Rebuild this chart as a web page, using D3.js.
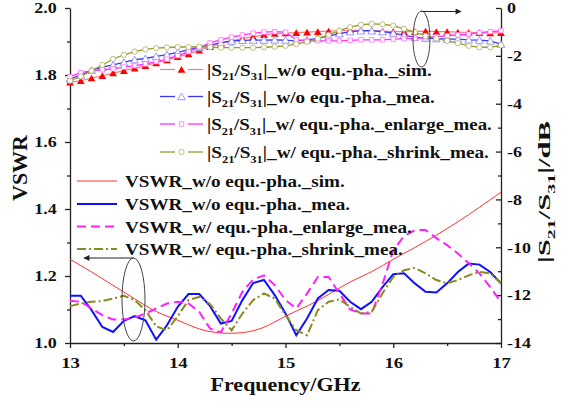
<!DOCTYPE html>
<html>
<head>
<meta charset="utf-8">
<script src="https://cdn.jsdelivr.net/npm/d3@7"></script>
<style>
  html, body { margin: 0; padding: 0; background: #fff; }
  svg text { font-family: "Liberation Serif", "Times New Roman", serif; font-weight: bold; fill: #111; }
</style>
</head>
<body>
<svg id="chart" width="565" height="404"></svg>
<script>
// ---- data ----
const freqGHz = [13.0,13.1,13.2,13.3,13.4,13.5,13.6,13.7,13.8,13.9,
                 14.0,14.1,14.2,14.3,14.4,14.5,14.6,14.7,14.8,14.9,
                 15.0,15.1,15.2,15.3,15.4,15.5,15.6,15.7,15.8,15.9,
                 16.0,16.1,16.2,16.3,16.4,16.5,16.6,16.7,16.8,16.9,17.0];

// |S21/S31| in dB (right axis)
const s21SimDb = [-3.10,-3.04,-2.93,-2.83,-2.72,-2.62,-2.52,-2.41,-2.30,-2.17,
                  -2.04,-1.92,-1.77,-1.62,-1.48,-1.37,-1.28,-1.20,-1.12,-1.07,
                  -1.05,-1.03,-1.01,-0.99,-0.97,-0.95,-0.93,-0.93,-0.95,-0.97,
                  -0.99,-0.99,-0.98,-0.97,-0.99,-0.99,-1.01,-1.02,-1.03,-1.05,-1.03];
const s21MeaDb = [-2.96,-2.80,-2.60,-2.47,-2.38,-2.27,-2.16,-2.11,-2.02,-1.95,
                  -1.85,-1.74,-1.65,-1.55,-1.45,-1.38,-1.35,-1.34,-1.34,-1.33,
                  -1.34,-1.37,-1.33,-1.27,-1.18,-1.07,-0.99,-0.95,-0.95,-0.99,
                  -1.05,-1.14,-1.22,-1.26,-1.28,-1.30,-1.30,-1.33,-1.34,-1.37,-1.51];
const s21EnlargeDb = [-2.87,-2.70,-2.62,-2.58,-2.54,-2.47,-2.41,-2.34,-2.24,-2.14,
                      -1.99,-1.83,-1.64,-1.46,-1.33,-1.22,-1.13,-1.05,-1.01,-0.99,
                      -1.01,-1.33,-1.37,-1.37,-1.37,-1.37,-1.35,-1.33,-1.33,-1.33,
                      -1.30,-1.28,-1.27,-1.24,-1.20,-1.16,-1.12,-1.09,-1.03,-0.99,-0.95];
const s21ShrinkDb = [-3.04,-2.86,-2.62,-2.38,-2.13,-1.96,-1.82,-1.73,-1.68,-1.65,
                     -1.63,-1.63,-1.62,-1.64,-1.66,-1.66,-1.66,-1.66,-1.64,-1.62,
                     -1.58,-1.51,-1.41,-1.28,-1.12,-0.95,-0.80,-0.70,-0.66,-0.68,
                     -0.74,-0.87,-1.01,-1.16,-1.27,-1.37,-1.47,-1.58,-1.64,-1.64,-1.56];

// VSWR (left axis)
const vswrSimFreq = [13.0,13.2,13.4,13.6,13.8,14.0,14.2,14.4,14.6,14.8,15.0,
                     15.2,15.4,15.6,15.8,16.0,16.2,16.4,16.6,16.8,17.0];
const vswrSim = [1.250,1.212,1.172,1.132,1.094,1.068,1.042,1.030,1.031,1.047,1.080,
                 1.110,1.145,1.182,1.213,1.250,1.285,1.322,1.362,1.405,1.450];
const vswrMea = [1.141,1.141,1.098,1.048,1.033,1.066,1.080,1.068,1.010,1.053,
                 1.108,1.146,1.146,1.110,1.058,1.066,1.128,1.179,1.188,1.143,
                 1.088,1.023,1.073,1.133,1.158,1.156,1.123,1.101,1.123,1.167,
                 1.205,1.208,1.178,1.153,1.151,1.178,1.212,1.237,1.234,1.212,1.178];
const vswrEnlarge = [1.126,1.123,1.103,1.083,1.070,1.070,1.076,1.088,1.103,1.118,
                     1.123,1.118,1.093,1.043,1.032,1.088,1.153,1.190,1.202,1.173,
                     1.128,1.103,1.148,1.197,1.197,1.148,1.100,1.088,1.088,1.175,
                     1.277,1.319,1.337,1.337,1.313,1.292,1.267,1.238,1.208,1.167,1.122];
const vswrShrink = [1.110,1.118,1.123,1.125,1.133,1.141,1.128,1.098,1.050,1.038,
                    1.080,1.128,1.138,1.116,1.073,1.038,1.088,1.128,1.148,1.133,
                    1.083,1.038,1.023,1.098,1.123,1.130,1.108,1.088,1.093,1.148,
                    1.197,1.217,1.224,1.208,1.188,1.178,1.188,1.202,1.212,1.208,1.178];

// ticks
const freqTicks = [13, 14, 15, 16, 17];
const freqMinor = [13.5, 14.5, 15.5, 16.5];
const vswrTicks = [1.0, 1.2, 1.4, 1.6, 1.8, 2.0];
const vswrMinor = [1.1, 1.3, 1.5, 1.7, 1.9];
const dbTicks = [0, -2, -4, -6, -8, -10, -12, -14];
const dbMinor = [-1, -3, -5, -7, -9, -11, -13];

// legend texts
const s21Labels = ["_w/o equ.-pha._sim.", "_w/o equ.-pha._mea.",
                   "_w/ equ.-pha._enlarge_mea.", "_w/ equ.-pha._shrink_mea."];
const vswrLabels = ["VSWR_w/o equ.-pha._sim.", "VSWR_w/o equ.-pha._mea.",
                    "VSWR_w/ equ.-pha._enlarge_mea.", "VSWR_w/ equ.-pha._shrink_mea."];

// ---- drawing ----
const svg = d3.select("#chart");
const x = d3.scaleLinear().domain([13, 17]).range([70, 501]);
const yL = d3.scaleLinear().domain([1, 2]).range([343, 8]);
const yR = d3.scaleLinear().domain([-14, 0]).range([343, 8]);

const AXIS = "#222";

function styleAxis(g, k)
{
    g.selectAll("path, line").attr("stroke", AXIS).attr("stroke-width", 1.3);
    g.selectAll("text").attr("font-size", 15).attr("fill", "#111")
        .attr("font-family", null).attr("transform", "scale(" + k + ",1)");
}

function noDomain(g) { g.select(".domain").remove(); g.selectAll("path, line").attr("stroke", AXIS).attr("stroke-width", 1.3); }

// bottom
svg.append("g").attr("transform", "translate(0,343)")
    .call(d3.axisBottom(x).tickValues(freqTicks).tickSize(5).tickSizeOuter(0).tickPadding(9).tickFormat(d3.format("d")))
    .call(g => styleAxis(g, 1.25));
svg.append("g").attr("transform", "translate(0,343)")
    .call(d3.axisBottom(x).tickValues(freqMinor).tickSize(3).tickFormat(""))
    .call(noDomain);

// left
svg.append("g").attr("transform", "translate(70,0)")
    .call(d3.axisLeft(yL).tickValues(vswrTicks).tickSize(5).tickSizeOuter(0).tickPadding(6).tickFormat(d3.format(".1f")))
    .call(g => styleAxis(g, 1.2));
svg.append("g").attr("transform", "translate(70,0)")
    .call(d3.axisLeft(yL).tickValues(vswrMinor).tickSize(3).tickFormat(""))
    .call(noDomain);

// right (ticks point inward)
svg.append("g").attr("transform", "translate(501,0)")
    .call(d3.axisRight(yR).tickValues(dbTicks).tickSize(-5).tickSizeOuter(0).tickPadding(5).tickFormat(d => d === 0 ? "0" : "-" + Math.abs(d)))
    .call(g => styleAxis(g, 1.2));
svg.append("g").attr("transform", "translate(501,0)")
    .call(d3.axisRight(yR).tickValues(dbMinor).tickSize(-3).tickFormat(""))
    .call(noDomain);

// text helper: parts = [[string, isSub], ...], stretched to width w
function richText(parent, px, py, parts, size, w, anchor, rotate)
{
    var g = parent.append("g");
    var t = g.append("text").attr("text-anchor", anchor || "start").attr("font-size", size);
    parts.forEach(function (p) {
        var s = t.append("tspan").text(p[0]);
        if (p[1])
            s.attr("font-size", size * 0.65).attr("dy", size * 0.28);
        else
            s.attr("dy", p[2] ? -size * 0.28 : 0);
    });
    var bw = t.node().getComputedTextLength();
    var k = w ? w / bw : 1;
    g.attr("transform", "translate(" + px + "," + py + ")" + (rotate ? " rotate(-90)" : "") + " scale(" + k + ",1)");
    return g;
}

const sParts = (tail) => [["|S"], ["21", true], ["/S", false, true], ["31", true], ["|" + tail, false, true]];

// axis titles
richText(svg, 285.5, 391, [["Frequency/GHz"]], 18, 150, "middle");
richText(svg, 27, 168, [["VSWR"]], 22, null, "middle", true);
richText(svg, 550, 192, sParts("/dB"), 17, 142, "middle", true);

// ---- upper curves (right axis) ----
const lineR = d3.line().x((d, i) => x(freqGHz[i])).y(d => yR(d));
const lineL = d3.line().x((d, i) => x(freqGHz[i])).y(d => yL(d));

const triangle = d3.symbol(d3.symbolTriangle).size(26);
const square = d3.symbol(d3.symbolSquare).size(20);
const circle = d3.symbol(d3.symbolCircle).size(22);

const upper = [
    { vals: s21SimDb, line: "#ff7a7a", width: 1.2, sym: triangle, fill: "#ff0000", stroke: "none", dy: 1 },
    { vals: s21MeaDb, line: "#3a3aff", width: 1.3, sym: triangle, fill: "#fff", stroke: "#8080ff", dy: 1 },
    { vals: s21EnlargeDb, line: "#ff30ff", width: 1.3, sym: square, fill: "#fff", stroke: "#ff70ff", dy: 0 },
    { vals: s21ShrinkDb, line: "#9a9a30", width: 1.3, sym: circle, fill: "#fff", stroke: "#b0b060", dy: 0 }
];

upper.forEach(function (s) {
    svg.append("path").attr("d", lineR(s.vals)).attr("fill", "none")
        .attr("stroke", s.line).attr("stroke-width", s.width);
    svg.append("g").selectAll("path").data(s.vals).enter().append("path")
        .attr("d", s.sym)
        .attr("transform", (d, i) => "translate(" + x(freqGHz[i]) + "," + (yR(d) + s.dy) + ")")
        .attr("fill", s.fill).attr("stroke", s.stroke).attr("stroke-width", 0.8);
});

// ---- VSWR curves (left axis) ----
svg.append("path")
    .attr("d", d3.line().x((d, i) => x(vswrSimFreq[i])).y(d => yL(d)).curve(d3.curveNatural)(vswrSim))
    .attr("fill", "none").attr("stroke", "#ff3030").attr("stroke-width", 1);

const lower = [
    { vals: vswrMea, color: "#1010ff", dash: null },
    { vals: vswrEnlarge, color: "#ff20ff", dash: "9,5" },
    { vals: vswrShrink, color: "#8a8a20", dash: "9,3,2,3" }
];
lower.forEach(function (s) {
    svg.append("path").attr("d", lineL(s.vals)).attr("fill", "none")
        .attr("stroke", s.color).attr("stroke-width", 2)
        .attr("stroke-dasharray", s.dash);
});

// ---- legends ----
const upRows = [69.5, 96.5, 124, 152];
const upWidths = [225, 228, 285, 282];
upper.forEach(function (s, i) {
    var yy = upRows[i];
    svg.append("line").attr("x1", 160).attr("x2", 175).attr("y1", yy).attr("y2", yy)
        .attr("stroke", s.line).attr("stroke-width", s.width);
    svg.append("line").attr("x1", 188).attr("x2", 203).attr("y1", yy).attr("y2", yy)
        .attr("stroke", s.line).attr("stroke-width", s.width);
    svg.append("path").attr("d", s.sym).attr("transform", "translate(181.5," + (yy + s.dy) + ")")
        .attr("fill", s.fill).attr("stroke", s.stroke).attr("stroke-width", 0.8);
    richText(svg, 207, yy + 6, sParts(s21Labels[i]), 16.5, upWidths[i], "start");
});

const loRows = [181, 204, 226.5, 249];
const loWidths = [220, 225, 287, 278];
const loStyle = [{ color: "#ff3030", w: 1, dash: null }].concat(lower.map(s => ({ color: s.color, w: 2, dash: s.dash })));
loStyle.forEach(function (s, i) {
    var yy = loRows[i];
    svg.append("line").attr("x1", 77).attr("x2", 117).attr("y1", yy).attr("y2", yy)
        .attr("stroke", s.color).attr("stroke-width", s.w).attr("stroke-dasharray", s.dash);
    richText(svg, 125, yy + 6, [[vswrLabels[i]]], 17, loWidths[i], "start");
});

// ---- annotations: ellipses with arrows ----
svg.append("defs").append("marker").attr("id", "arrow")
    .attr("viewBox", "0 0 10 10").attr("refX", 9).attr("refY", 5)
    .attr("markerWidth", 8).attr("markerHeight", 6).attr("orient", "auto")
    .attr("markerUnits", "userSpaceOnUse")
    .append("path").attr("d", "M0,0L10,5L0,10z").attr("fill", "#222");

svg.append("ellipse").attr("cx", 421.5).attr("cy", 39).attr("rx", 8.5).attr("ry", 28)
    .attr("fill", "none").attr("stroke", "#444").attr("stroke-width", 1);
svg.append("line").attr("x1", 421.5).attr("y1", 11.5).attr("x2", 461).attr("y2", 11.5)
    .attr("stroke", "#222").attr("stroke-width", 1).attr("marker-end", "url(#arrow)");

svg.append("ellipse").attr("cx", 133.5).attr("cy", 299.5).attr("rx", 11.5).attr("ry", 41.5)
    .attr("fill", "none").attr("stroke", "#444").attr("stroke-width", 1);
svg.append("line").attr("x1", 133.5).attr("y1", 258).attr("x2", 84).attr("y2", 258)
    .attr("stroke", "#222").attr("stroke-width", 1).attr("marker-end", "url(#arrow)");
</script>
</body>
</html>
